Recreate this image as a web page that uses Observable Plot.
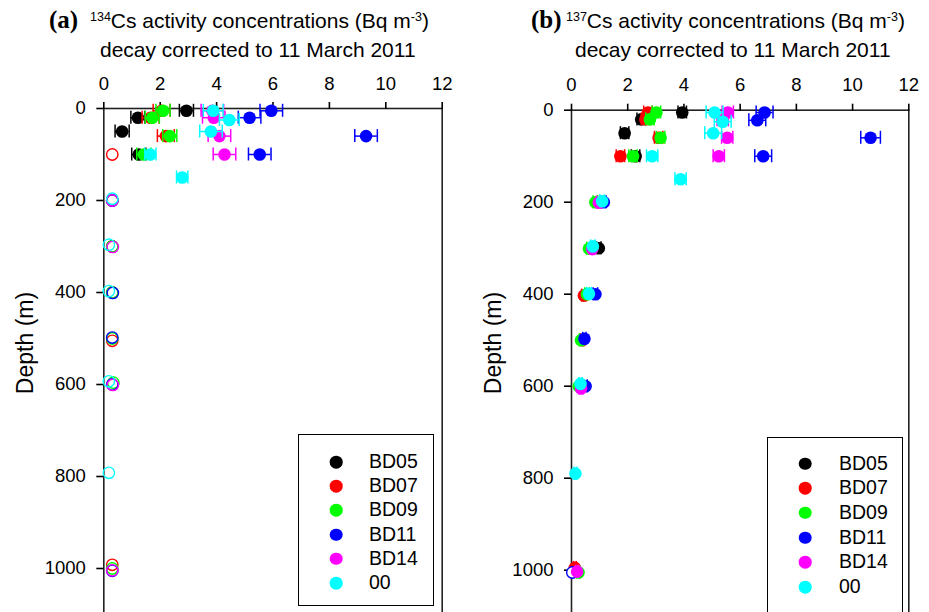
<!DOCTYPE html>
<html>
<head>
<meta charset="utf-8">
<script src="https://cdn.jsdelivr.net/npm/d3@7"></script>
<script src="https://cdn.jsdelivr.net/npm/@observablehq/plot@0.6"></script>
<style>
html, body { margin: 0; padding: 0; overflow: hidden; background: #fff; }
#fig { position: relative; width: 929px; height: 612px; overflow: hidden; font-family: "Liberation Sans", Arial, sans-serif; color: #000; background: #fff; }
.t { position: absolute; font-size: 21px; line-height: 1; white-space: nowrap; }
.t sup { font-size: 12.5px; vertical-align: baseline; position: relative; top: -7.5px; }
.tag { position: absolute; font-family: "Liberation Serif", "Times New Roman", serif; font-weight: bold; font-size: 25px; line-height: 1; white-space: nowrap; }
.ylab { position: absolute; font-size: 23px; line-height: 1; white-space: nowrap; transform: translate(-50%, -50%) rotate(-90deg); }
.panel { position: absolute; top: 0; }
.legend { position: absolute; border: 1.5px solid #000; background: #fff; box-sizing: border-box; }
.legend .mk { position: absolute; width: 12.6px; height: 12.6px; border-radius: 50%; transform: translate(-50%, -50%); }
.legend .lb { position: absolute; font-size: 19.5px; line-height: 1; transform: translateY(-50%); white-space: nowrap; }
</style>
</head>
<body>
<div id="fig"></div>
<script>
// ---- data ----
const stations = ["BD05", "BD07", "BD09", "BD11", "BD14", "00"];
const stationColors = ["#000000", "#ff0000", "#00ff00", "#0000ff", "#ff00ff", "#00ffff"];
const xTicks = [0, 2, 4, 6, 8, 10, 12];
const depthTicks = [0, 200, 400, 600, 800, 1000];

// (a) 134Cs: [station, depth (m), activity (Bq m-3), error, detected (1) / below detection limit (0)]
const cs134 = [
  ["BD05", 5, 2.93, 0.25, 1], ["BD05", 20, 1.21, 0.25, 1], ["BD05", 50, 0.65, 0.25, 1], ["BD05", 100, 1.24, 0.25, 1],
  ["BD05", 300, 0.30, 0, 0],
  ["BD07", 5, 2.05, 0.3, 1], ["BD07", 20, 1.66, 0.3, 1], ["BD07", 60, 2.2, 0.3, 1], ["BD07", 100, 0.30, 0, 0],
  ["BD07", 200, 0.30, 0, 0], ["BD07", 400, 0.30, 0, 0], ["BD07", 505, 0.30, 0, 0], ["BD07", 992, 0.30, 0, 0],
  ["BD09", 5, 2.1, 0.25, 1], ["BD09", 20, 1.72, 0.25, 1], ["BD09", 60, 2.34, 0.25, 1], ["BD09", 100, 1.42, 0.25, 1],
  ["BD09", 200, 0.30, 0, 0], ["BD09", 300, 0.30, 0, 0], ["BD09", 400, 0.30, 0, 0], ["BD09", 500, 0.30, 0, 0],
  ["BD09", 596, 0.34, 0, 0], ["BD09", 1000, 0.30, 0, 0],
  ["BD11", 5, 5.94, 0.4, 1], ["BD11", 20, 5.17, 0.4, 1], ["BD11", 60, 9.3, 0.4, 1], ["BD11", 100, 5.53, 0.4, 1],
  ["BD11", 200, 0.30, 0, 0], ["BD11", 401, 0.32, 0, 0], ["BD11", 498, 0.30, 0, 0], ["BD11", 600, 0.30, 0, 0],
  ["BD11", 1005, 0.30, 0, 0],
  ["BD14", 5, 3.85, 0.4, 1], ["BD14", 20, 3.9, 0.4, 1], ["BD14", 60, 4.1, 0.4, 1], ["BD14", 100, 4.28, 0.4, 1],
  ["BD14", 200, 0.30, 0, 0], ["BD14", 301, 0.32, 0, 0], ["BD14", 601, 0.32, 0, 0], ["BD14", 1004, 0.30, 0, 0],
  ["00", 5, 3.88, 0.35, 1], ["00", 25, 4.45, 0.35, 1], ["00", 50, 3.8, 0.4, 1], ["00", 100, 1.65, 0.2, 1],
  ["00", 150, 2.78, 0.2, 1], ["00", 196, 0.30, 0, 0], ["00", 296, 0.18, 0, 0], ["00", 397, 0.18, 0, 0],
  ["00", 593, 0.18, 0, 0], ["00", 792, 0.18, 0, 0]
];

// (b) 137Cs: [station, depth (m), activity (Bq m-3), error, detected (1) / below detection limit (0)]
const cs137 = [
  ["BD05", 5, 3.94, 0.15, 1], ["BD05", 20, 2.48, 0.15, 1], ["BD05", 50, 1.89, 0.15, 1], ["BD05", 100, 2.28, 0.15, 1],
  ["BD05", 300, 0.97, 0.08, 1],
  ["BD07", 5, 2.72, 0.15, 1], ["BD07", 20, 2.63, 0.15, 1], ["BD07", 60, 3.1, 0.15, 1], ["BD07", 100, 1.74, 0.15, 1],
  ["BD07", 200, 1.0, 0.08, 1], ["BD07", 403, 0.44, 0.08, 1], ["BD07", 500, 0.38, 0.06, 1], ["BD07", 995, 0.12, 0.05, 1],
  ["BD09", 5, 3.02, 0.15, 1], ["BD09", 20, 2.79, 0.15, 1], ["BD09", 60, 3.17, 0.15, 1], ["BD09", 100, 2.19, 0.15, 1],
  ["BD09", 200, 0.85, 0.08, 1], ["BD09", 301, 0.62, 0.08, 1], ["BD09", 400, 0.55, 0.08, 1], ["BD09", 500, 0.34, 0.06, 1],
  ["BD09", 600, 0.26, 0.06, 1], ["BD09", 1005, 0.25, 0.05, 1],
  ["BD11", 5, 6.87, 0.3, 1], ["BD11", 22, 6.61, 0.3, 1], ["BD11", 60, 10.64, 0.35, 1], ["BD11", 100, 6.82, 0.3, 1],
  ["BD11", 200, 1.15, 0.08, 1], ["BD11", 400, 0.85, 0.08, 1], ["BD11", 497, 0.46, 0.06, 1], ["BD11", 600, 0.5, 0.06, 1],
  ["BD11", 1005, 0.03, 0, 0],
  ["BD14", 5, 5.56, 0.2, 1], ["BD14", 22, 5.38, 0.2, 1], ["BD14", 60, 5.54, 0.2, 1], ["BD14", 100, 5.24, 0.2, 1],
  ["BD14", 201, 0.97, 0.08, 1], ["BD14", 302, 0.74, 0.08, 1], ["BD14", 605, 0.34, 0.06, 1], ["BD14", 1003, 0.2, 0.05, 1],
  ["00", 5, 5.09, 0.3, 1], ["00", 25, 5.38, 0.3, 1], ["00", 50, 5.04, 0.3, 1], ["00", 100, 2.87, 0.2, 1],
  ["00", 150, 3.88, 0.2, 1], ["00", 198, 1.09, 0.08, 1], ["00", 296, 0.76, 0.08, 1], ["00", 399, 0.62, 0.08, 1],
  ["00", 595, 0.32, 0.06, 1], ["00", 790, 0.14, 0.05, 1]
];

// ---- drawing ----
const fig = document.getElementById("fig");

function makePanel(data, cfg) {
  const rows = data.map(([st, depth, v, e, det]) => ({st, depth, v, e, det}));
  const marks = [
    Plot.frame({stroke: "#222", strokeWidth: 1.6}),
    Plot.axisX({anchor: "top", ticks: xTicks, tickSize: 7, tickPadding: 12, label: null, strokeWidth: 1.6, tickFormat: d => String(d)}),
    Plot.axisY({anchor: "left", ticks: depthTicks, tickSize: 7, tickPadding: 11, label: null, strokeWidth: 1.6, tickFormat: d => String(d)})
  ];
  stations.forEach((st, k) => {
    const c = stationColors[k];
    const s = rows.filter(r => r.st === st);
    const we = s.filter(r => r.e > 0);
    marks.push(Plot.ruleY(we, {x1: r => r.v - r.e, x2: r => r.v + r.e, y: "depth", stroke: c, strokeWidth: 1.5}));
    marks.push(Plot.ruleX(we, {x: r => r.v - r.e, y1: "depth", y2: "depth", insetTop: -6.5, insetBottom: -6.5, stroke: c, strokeWidth: 1.5}));
    marks.push(Plot.ruleX(we, {x: r => r.v + r.e, y1: "depth", y2: "depth", insetTop: -6.5, insetBottom: -6.5, stroke: c, strokeWidth: 1.5}));
    marks.push(Plot.dot(s.filter(r => r.det), {x: "v", y: "depth", r: 6.3, fill: c}));
    marks.push(Plot.dot(s.filter(r => !r.det), {x: "v", y: "depth", r: 5.7, fill: cfg.openFill, stroke: c, strokeWidth: 1.4}));
  });
  const svg = Plot.plot({
    width: cfg.width, height: 620,
    marginLeft: cfg.ml, marginRight: cfg.mr, marginTop: cfg.mt, marginBottom: cfg.mb,
    x: {domain: [0, 12]},
    y: {domain: [0, 1100], reverse: true},
    style: {fontFamily: '"Liberation Sans", Arial, sans-serif', fontSize: "18.5px", color: "#000", background: "transparent", overflow: "visible"},
    marks
  });
  const wrap = document.createElement("div");
  wrap.className = "panel";
  wrap.style.left = cfg.left + "px";
  wrap.style.width = cfg.width + "px";
  wrap.appendChild(svg);
  fig.appendChild(wrap);
}

function addTitle(tag, iso, tagLeft, l1Left, l2Left) {
  const t = document.createElement("span");
  t.className = "tag"; t.textContent = tag;
  t.style.left = tagLeft + "px"; t.style.top = "6.5px";
  fig.appendChild(t);
  const a = document.createElement("span");
  a.className = "t";
  a.innerHTML = "<sup>" + iso + "</sup>Cs activity concentrations (Bq m<sup>-3</sup>)";
  a.style.left = l1Left + "px"; a.style.top = "10.2px";
  fig.appendChild(a);
  const b = document.createElement("span");
  b.className = "t"; b.textContent = "decay corrected to 11 March 2011";
  b.style.left = l2Left + "px"; b.style.top = "39.2px";
  fig.appendChild(b);
}

function addYLabel(cx, cy) {
  const d = document.createElement("div");
  d.className = "ylab"; d.textContent = "Depth (m)";
  d.style.left = cx + "px"; d.style.top = cy + "px";
  fig.appendChild(d);
}

function addLegend(left, top, w, h, mx, lx, y0, dy) {
  const box = document.createElement("div");
  box.className = "legend";
  Object.assign(box.style, {left: left + "px", top: top + "px", width: w + "px", height: h + "px"});
  stations.forEach((st, k) => {
    const m = document.createElement("div");
    m.className = "mk";
    Object.assign(m.style, {left: mx + "px", top: (y0 + k * dy) + "px", background: stationColors[k]});
    box.appendChild(m);
    const l = document.createElement("div");
    l.className = "lb"; l.textContent = st;
    Object.assign(l.style, {left: lx + "px", top: (y0 + k * dy) + "px"});
    box.appendChild(l);
  });
  fig.appendChild(box);
}

makePanel(cs134, {left: 0, width: 460, ml: 103.3, mr: 18.3, mt: 108, mb: 6, openFill: "none"});
makePanel(cs137, {left: 465, width: 464, ml: 106, mr: 20.7, mt: 109.7, mb: 4.3, openFill: "white"});
addTitle("(a)", "134", 49, 90, 100);
addTitle("(b)", "137", 531, 566, 575);
addYLabel(25, 343);
addYLabel(493, 343);
addLegend(298, 434, 136, 172, 37, 70, 27, 24.2);
addLegend(767, 437, 136, 200, 37, 71, 25.5, 24.7);
</script>
</body>
</html>
